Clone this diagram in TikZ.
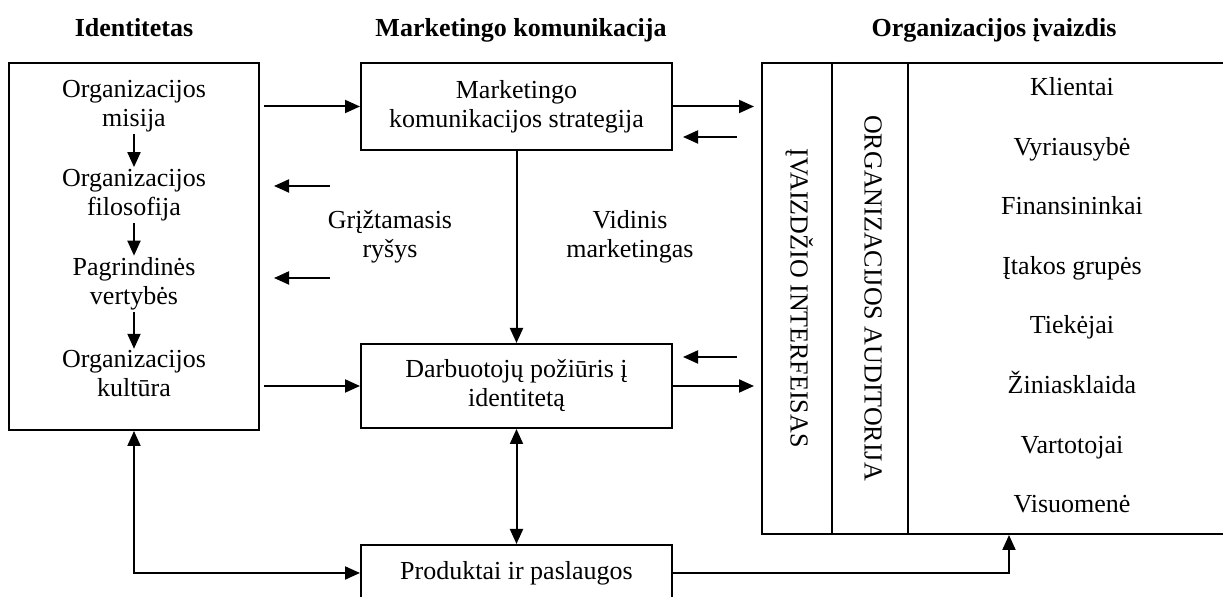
\documentclass[tikz,border=0pt]{standalone}
\usepackage{fontspec}
\setmainfont{Liberation Serif}
\usetikzlibrary{arrows.meta,calc}
\begin{document}
\begin{tikzpicture}[x=0.5pt,y=-0.5pt,
  line width=1pt,
  every node/.style={font=\fontsize{13}{14.5}\selectfont, align=center},
  box/.style={draw, inner sep=0pt},
  title/.style={font=\fontsize{13}{15}\selectfont\bfseries, text height=9pt, text depth=2.5pt, inner sep=0pt},
  txt/.style={inner sep=0pt},
  item/.style={inner sep=0pt, text height=9pt, text depth=2.5pt},
  vtxt/.style={inner sep=0pt, rotate=-90, text height=9pt, text depth=2.5pt},
  arr/.style={-{Triangle[length=7.5pt,width=6.5pt]}},
  darr/.style={{Triangle[length=7.5pt,width=6.5pt]}-{Triangle[length=7.5pt,width=6.5pt]}}
]
\useasboundingbox (0,0) rectangle (1223,597);
\clip (0,0) rectangle (1223,597);

% column titles
\node[title] (tId)  at (134,30) {Identitetas};
\node[title] (tMk)  at (521,30) {Marketingo komunikacija};
\node[title] (tImg) at (994,30) {Organizacijos įvaizdis};

% identity box and its chain
\node[box, minimum width=125pt, minimum height=183.5pt] (L) at (134,246.5) {};
\node[txt, inner ysep=0.5pt] (l1) at (134,106) {Organizacijos\\misija};
\node[txt, inner ysep=0.5pt] (l2) at (134,195) {Organizacijos\\filosofija};
\node[txt, inner ysep=0.5pt] (l3) at (134,284) {Pagrindinės\\vertybės};
\node[txt, inner ysep=0.5pt] (l4) at (134,374) {Organizacijos\\kultūra};
\draw[arr] (l1) -- (l2);
\draw[arr] (l2) -- (l3);
\draw[arr] (l3) -- (l4);

% marketing communication column
\node[box, minimum width=155.5pt, minimum height=43.5pt] (M) at (516.5,106.5)
  {Marketingo\\komunikacijos strategija};
\node[box, minimum width=155.5pt, minimum height=42pt] (D) at (516.5,386)
  {Darbuotojų požiūris į\\identitetą};
\node[box, minimum width=155.5pt, minimum height=28pt, text height=9pt, text depth=2.5pt] (P) at (516.5,573)
  {Produktai ir paslaugos};

\node[txt] (fb)  at (390,237) {Grįžtamasis\\ryšys};
\node[txt] (vm)  at (630,237) {Vidinis\\marketingas};

% image / audience block
\node[box, minimum width=235pt, minimum height=235.5pt] (R) at (997,298.5) {};
\draw ([xshift=35.5pt]R.north west) -- ([xshift=35.5pt]R.south west);
\draw ([xshift=73.5pt]R.north west) -- ([xshift=73.5pt]R.south west);
\node[vtxt] (v1) at (797,298) {ĮVAIZDŽIO INTERFEISAS};
\node[vtxt] (v2) at (871,298) {ORGANIZACIJOS AUDITORIJA};

\foreach \name [count=\i from 0] in {Klientai, Vyriausybė, Finansininkai,
  Įtakos grupės, Tiekėjai, Žiniasklaida, Vartotojai, Visuomenė}
  \node[item] (a\i) at (1072,{89+59.6*\i}) {\name};

% free ends of the short feedback arrows
\coordinate (fbL1) at (330,186);
\coordinate (fbL2) at (330,278);
\coordinate (fbR1) at (737,137);
\coordinate (fbR2) at (737,357);

% connectors
\draw[arr, shorten <=2pt] (L.east |- M.west) -- (M.west);
\draw[arr, shorten <=2pt] (L.east |- D.west) -- (D.west);
\draw[arr, shorten >=3.5pt] (M.east) -- (M.east -| R.west);
\draw[arr, shorten >=3.5pt] (D.east) -- (D.east -| R.west);
\draw[arr, shorten >=5pt] (fbR1) -- (fbR1 -| M.east);
\draw[arr, shorten >=5pt] (fbR2) -- (fbR2 -| D.east);
\draw[arr, shorten >=7pt] (fbL1) -- (fbL1 -| L.east);
\draw[arr, shorten >=7pt] (fbL2) -- (fbL2 -| L.east);
\draw[arr] (M.south) -- (D.north);
\draw[darr] (D.south) -- (P.north);
\draw[darr] (L.south) |- (P.west);
\draw[arr] (P.east) -| ([xshift=6pt]R.south);
\end{tikzpicture}
\end{document}
